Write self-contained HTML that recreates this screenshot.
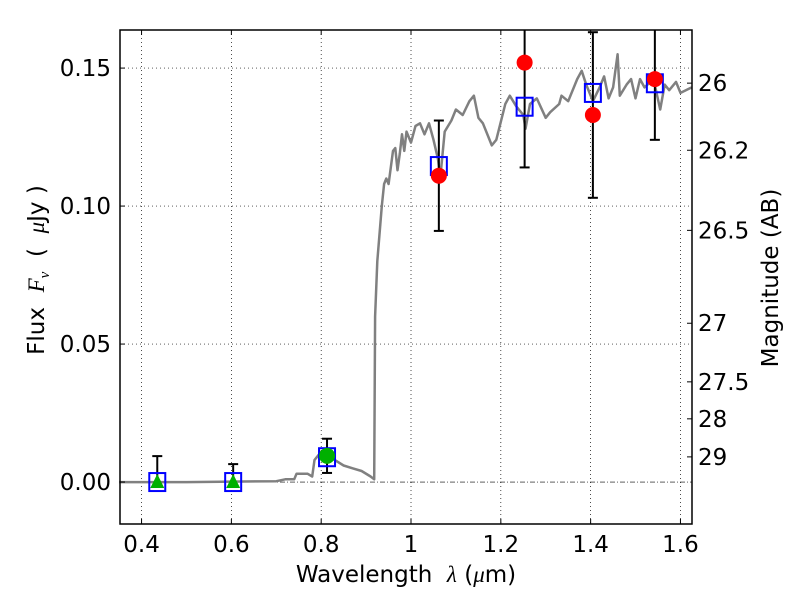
<!DOCTYPE html>
<html><head><meta charset="utf-8">
<style>
body{margin:0;background:#fff;}
svg text{font-family:"DejaVu Sans","Liberation Sans",sans-serif;white-space:pre;}
</style></head>
<body>
<svg id="chart" width="800" height="600" xmlns="http://www.w3.org/2000/svg">
<rect width="800" height="600" fill="#fff"/>
<g id="grid"></g>
<g id="plot"></g>
<g id="axes"></g>
</svg>
<script>
const xTicks=[0.4,0.6,0.8,1.0,1.2,1.4,1.6];
const xTickLabels=["0.4","0.6","0.8","1","1.2","1.4","1.6"];
const yTicks=[0,0.05,0.10,0.15];
const yTickLabels=["0.00","0.05","0.10","0.15"];
const magTicks=[26,26.2,26.5,27,27.5,28,29];
const magLabels=["26","26.2","26.5","27","27.5","28","29"];
const specLam=[0.35,0.50,0.70,0.72,0.74,0.745,0.77,0.78,0.785,0.80,0.82,0.85,0.87,0.89,0.91,0.918,0.92,0.925,0.935,0.94,0.945,0.95,0.96,0.965,0.97,0.975,0.98,0.985,0.99,1.0,1.01,1.02,1.03,1.04,1.05,1.06,1.065,1.075,1.09,1.10,1.115,1.13,1.14,1.15,1.16,1.18,1.19,1.21,1.22,1.235,1.25,1.255,1.265,1.28,1.30,1.31,1.33,1.335,1.35,1.37,1.38,1.39,1.405,1.42,1.43,1.44,1.45,1.46,1.465,1.48,1.49,1.50,1.51,1.52,1.54,1.555,1.565,1.575,1.59,1.60,1.625];
const specFlux=[0,0,0.0003,0.001,0.001,0.003,0.003,0.002,0.008,0.011,0.009,0.006,0.005,0.004,0.002,0.001,0.06,0.08,0.10,0.108,0.11,0.108,0.12,0.121,0.113,0.119,0.126,0.12,0.127,0.123,0.129,0.13,0.126,0.13,0.124,0.117,0.11,0.127,0.131,0.135,0.133,0.138,0.14,0.132,0.13,0.122,0.124,0.137,0.14,0.136,0.133,0.128,0.137,0.139,0.132,0.134,0.137,0.14,0.138,0.146,0.149,0.144,0.138,0.143,0.147,0.139,0.143,0.155,0.14,0.144,0.146,0.139,0.146,0.143,0.146,0.135,0.144,0.142,0.145,0.141,0.143];
const modelLam=[0.435,0.604,0.813,1.062,1.253,1.405,1.543];
const modelFlux=[0,0,0.009,0.1145,0.136,0.141,0.1445];
const obsLam=[0.435,0.604,0.813,1.062,1.253,1.405,1.543];
const obsFlux=[0,0,0.0095,0.111,0.152,0.133,0.146];
const obsErr=[0.0094,0.0065,0.0062,0.020,0.038,0.030,0.022];
const obsKind=["tri","tri","gcirc","rcirc","rcirc","rcirc","rcirc"];

const L=120,R=692,T=30,B=524;
const xMin=0.352,xMax=1.6257,yMin=-0.0152,yMax=0.1638;
const X=v=>L+(v-xMin)/(xMax-xMin)*(R-L);
const Y=v=>B-(v-yMin)/(yMax-yMin)*(B-T);
const NS="http://www.w3.org/2000/svg";
function mk(parent,tag,attrs,txt){const e=document.createElementNS(NS,tag);for(const k in attrs)e.setAttribute(k,attrs[k]);if(txt!==undefined)e.textContent=txt;document.getElementById(parent).appendChild(e);return e;}

xTicks.forEach((t,i)=>{
 const g=mk('grid','line',{x1:X(t),x2:X(t),y1:T,y2:B,stroke:'#000','stroke-width':0.7,'stroke-dasharray':'1,3'});
 
 
 const tk=mk('axes','line',{x1:X(t),x2:X(t),y1:B,y2:B-5,stroke:'#000'});
 
 
 const tk2=mk('axes','line',{x1:X(t),x2:X(t),y1:T,y2:T+5,stroke:'#000'});
 
 
 const lb=mk('axes','text',{x:X(t),y:B+28,'font-size':23,'text-anchor':'middle'},xTickLabels[i]);
 
 
});
yTicks.forEach((t,i)=>{
 if(t!==0){const g=mk('grid','line',{x1:L,x2:R,y1:Y(t),y2:Y(t),stroke:'#000','stroke-width':0.7,'stroke-dasharray':'1,3'});
 
 }
 const tk=mk('axes','line',{x1:L,x2:L+5,y1:Y(t),y2:Y(t),stroke:'#000'});
 
 
 const lb=mk('axes','text',{x:L-9,y:Y(t)+8,'font-size':23,'text-anchor':'end'},yTickLabels[i]);
 
 
});
const zl=mk('grid','line',{x1:L,x2:R,y1:Y(0),y2:Y(0),stroke:'#000','stroke-width':0.7,'stroke-dasharray':'5,2,1,2'});



magTicks.forEach((m,i)=>{
 const f=Math.pow(10,(23.9-m)/2.5);
 const tk=mk('axes','line',{x1:R-5,x2:R,y1:Y(f),y2:Y(f),stroke:'#000'});
 
 
 const lb=mk('axes','text',{x:R+6,y:Y(f)+8,'font-size':23},magLabels[i]);
 
 
});

const pts=specLam.map((l,i)=>X(l).toFixed(1)+','+Y(specFlux[i]).toFixed(1)).join(' ');
const sp=mk('plot','polyline',{points:pts,fill:'none',stroke:'#808080','stroke-width':2.5,'stroke-linejoin':'round'});



obsLam.forEach((l,i)=>{
 const lo=Math.max(obsFlux[i]-obsErr[i],0);
 const x=X(l),y1=Y(Math.min(obsFlux[i]+obsErr[i],yMax)),y2=Y(lo);
 const e=mk('plot','line',{x1:x,x2:x,y1:y1,y2:y2,stroke:'#000','stroke-width':2});
 
 
 [obsFlux[i]+obsErr[i],lo].forEach(v=>{ if(v<yMax&&v>0.0005){
  const c=mk('plot','line',{x1:x-5,x2:x+5,y1:Y(v),y2:Y(v),stroke:'#000','stroke-width':2});
  
  }});
});
modelLam.forEach((l,i)=>{
 const s=mk('plot','rect',{x:X(l)-8,y:Y(modelFlux[i])-9,width:16,height:18,fill:'none',stroke:'#0000ff','stroke-width':2});
 
 
});
obsLam.forEach((l,i)=>{
 const x=X(l),y=Y(obsFlux[i]);let m;
 if(obsKind[i]==='tri'){m=mk('plot','polygon',{points:`${x},${y-8} ${x-7},${y+6} ${x+7},${y+6}`,fill:'#00b000'});}
 else{m=mk('plot','circle',{cx:x,cy:y,r:8,fill:obsKind[i]==='gcirc'?'#00b000':'#ff0000'});}
 
 
});

const fr=mk('axes','rect',{x:L,y:T,width:R-L,height:B-T,fill:'none',stroke:'#000','stroke-width':1.5});


const xl=mk('axes','text',{x:406,y:582,'font-size':23,'text-anchor':'middle'});
xl.innerHTML='Wavelength\u00a0\u00a0<tspan font-family="Liberation Serif, serif" font-style="italic">λ</tspan> (<tspan font-family="Liberation Serif, serif" font-style="italic">μ</tspan>m)';


const yl=mk('axes','text',{x:0,y:0,'font-size':23,'text-anchor':'middle',transform:'translate(44,270) rotate(-90)'});
yl.innerHTML='Flux\u00a0\u00a0<tspan font-family="Liberation Serif, serif" font-style="italic">F</tspan><tspan font-family="Liberation Serif, serif" font-style="italic" font-size="15" dy="5">ν</tspan><tspan dy="-5">\u00a0\u00a0(\u00a0\u00a0</tspan><tspan font-family="Liberation Serif, serif" font-style="italic">μ</tspan>Jy )';


const ml=mk('axes','text',{x:0,y:0,'font-size':23,'text-anchor':'middle',transform:'translate(778,278) rotate(-90)'},'Magnitude (AB)');


</script>
</body></html>
